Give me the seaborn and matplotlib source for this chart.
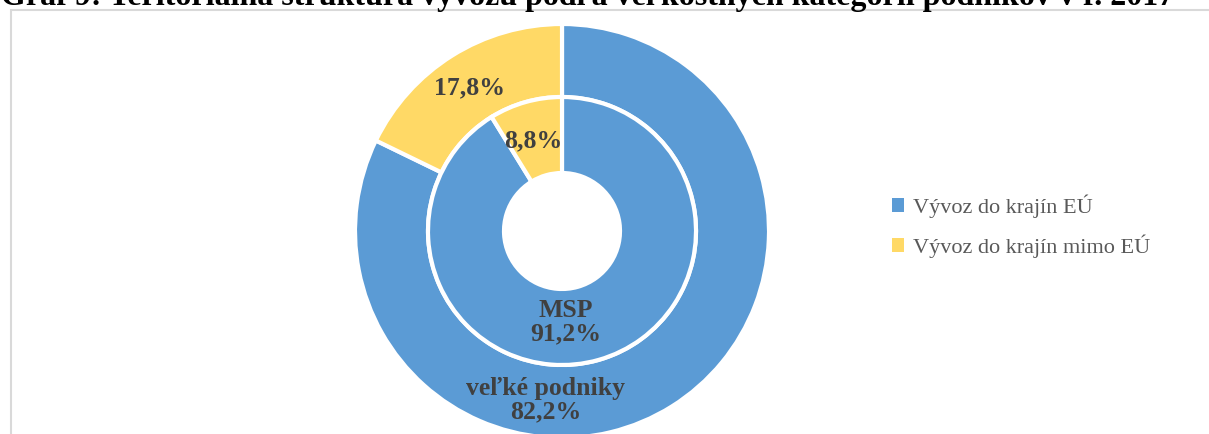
import matplotlib
matplotlib.use("Agg")
import matplotlib.pyplot as plt
import seaborn as sns
from matplotlib.patches import Patch, Rectangle

# data
series = ["Vývoz do krajín EÚ", "Vývoz do krajín mimo EÚ"]
velke_podniky = [82.2, 17.8]
msp = [91.2, 8.8]
title = "Graf 9: Teritoriálna štruktúra vývozu podľa veľkostných kategórií podnikov v r. 2017"

sns.set_style("white")
plt.rcParams["font.family"] = ["Liberation Serif", "DejaVu Serif"]

colors = ["#5B9BD5", "#FFD966"]
W, H = 1209, 434

fig = plt.figure(figsize=(W / 100, H / 100), dpi=100)
ax = fig.add_axes([0, 0, 1, 1])

cx, cy = 562, H - 231

# outer ring - velke podniky
ax.pie(velke_podniky, radius=207, center=(cx, cy), startangle=90, counterclock=False,
       colors=colors, wedgeprops=dict(width=73, edgecolor="white", linewidth=3))
# inner ring - MSP
ax.pie(msp, radius=134, center=(cx, cy), startangle=90, counterclock=False,
       colors=colors, wedgeprops=dict(width=76, edgecolor="white", linewidth=3))

ax.set_xlim(0, W)
ax.set_ylim(0, H)
ax.set_aspect("auto")
ax.axis("off")

fmt = lambda v: f"{v:.1f}%".replace(".", ",")
lab = dict(ha="center", va="center", fontsize=18.5, fontweight="bold", color="#404040")
ax.text(470, H - 88, fmt(velke_podniky[1]), **lab)
ax.text(533, H - 141, fmt(msp[1]), **lab)
ax.text(566, H - 322, "MSP\n" + fmt(msp[0]), linespacing=1.0, **lab)
ax.text(546, H - 400, "veľké podniky\n" + fmt(velke_podniky[0]), linespacing=1.0, **lab)

# chart area frame (cut off at right and bottom)
fig.patches.append(Rectangle((10.5 / W, -0.1), 1.2, (H - 10) / H + 0.1, transform=fig.transFigure,
                             fill=False, edgecolor="#D9D9D9", linewidth=1.5))

# title, mostly cut off at the top
fig.text(588 / W, (H - 5) / H, title, ha="center", va="baseline",
         fontsize=23, fontweight="bold", color="black")

handles = [Patch(facecolor=c, edgecolor="none") for c in colors]
fig.legend(handles, series, loc="center left", bbox_to_anchor=(872 / W, (H - 226) / H),
           frameon=False, fontsize=16, handlelength=0.55, handleheight=0.55,
           handletextpad=0.4, labelspacing=0.75, labelcolor="#595959")

fig.savefig("out.png", dpi=100)
